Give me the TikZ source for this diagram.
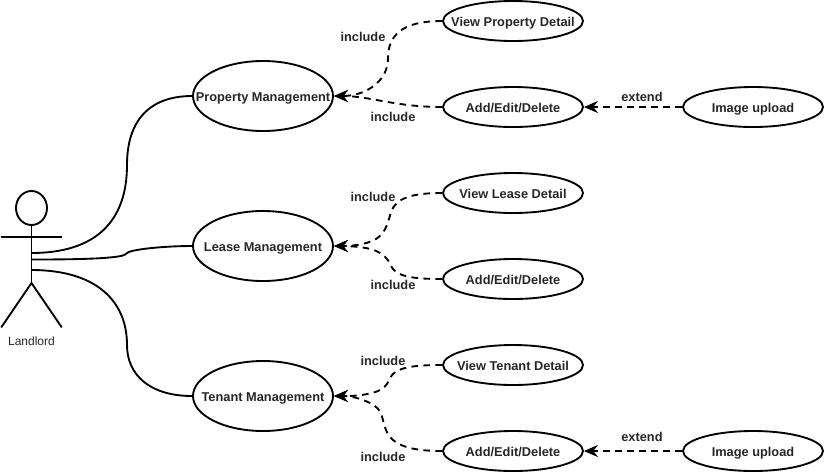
\documentclass[tikz,border=0pt]{standalone}
\usepackage{fontspec}
\setmainfont{Liberation Sans}
\usetikzlibrary{positioning,arrows.meta,shapes.geometric}

\begin{document}
\begin{tikzpicture}[x=0.75pt, y=-0.75pt, on grid,
	mainnode/.style={ellipse, draw=black, line width=1.4pt, inner xsep=-40pt, inner ysep=-4pt, text height=7.5pt, text depth=0pt, minimum width=105pt, minimum height=52.5pt, text=black!85, font=\fontsize{9.6}{11}\selectfont\bfseries},
	subnode/.style={ellipse, draw=black, line width=1.4pt, inner xsep=-40pt, inner ysep=-4pt, text height=7.5pt, text depth=0pt, minimum width=105pt, minimum height=30pt, text=black!85, font=\fontsize{9.6}{11}\selectfont\bfseries},
	lbl/.style={inner sep=0pt, text=black!85, font=\fontsize{9.6}{11}\selectfont\bfseries},
	actorline/.style={line width=1.4pt, line cap=round},
	assoc/.style={line width=1.4pt},
	dep/.style={line width=1.4pt, dash pattern=on 5pt off 4pt, -{Stealth[length=10.5pt, width=9pt, inset=3.5pt, sep=0pt]}}]
	\useasboundingbox (0,0) rectangle (824,472);
	\node[mainnode] (property) at (263,96) {Property Management};
	\node[mainnode] (lease) [below = 112.5pt of property] {Lease Management};
	\node[mainnode] (tenant) [below = 112.5pt of lease] {Tenant Management};
	\node[subnode] (viewprop) [above right = 56.25pt and 187.5pt of property] {View Property Detail};
	\node[subnode] (addprop) [below right = 8.25pt and 187.5pt of property] {Add/Edit/Delete};
	\node[subnode] (imgprop) [right = 180pt of addprop] {Image upload};
	\node[subnode] (viewlease) [above right = 39.75pt and 187.5pt of lease] {View Lease Detail};
	\node[subnode] (addlease) [below right = 24.75pt and 187.5pt of lease] {Add/Edit/Delete};
	\node[subnode] (viewtenant) [above right = 23.25pt and 187.5pt of tenant] {View Tenant Detail};
	\node[subnode] (addtenant) [below right = 41.25pt and 187.5pt of tenant] {Add/Edit/Delete};
	\node[subnode] (imgtenant) [right = 180pt of addtenant] {Image upload};
	% actor
	\node[ellipse, draw=black, line width=1.4pt, inner sep=0pt, minimum width=23.25pt, minimum height=25.5pt] (head) at (31.5,208) {};
	\coordinate (hip) at (31.5,283);
	\coordinate (armL) at (1.5,237);
	\coordinate (armR) at (61.5,237);
	\coordinate (legL) at (1.5,327);
	\coordinate (legR) at (61.5,327);
	\coordinate (linkA) at (31.5,253);
	\coordinate (linkB) at (31.5,259.5);
	\coordinate (linkC) at (31.5,270);
	\draw[actorline] (head.south) -- (hip);
	\draw[actorline] (armL) -- (armR);
	\draw[actorline] (legL) -- (hip) -- (legR);
	\node[inner sep=0pt, text=black!85, font=\fontsize{9}{10}\selectfont] (landlord) at (31.5,341) {Landlord};
	% associations
	\draw[assoc] (linkA) .. controls (95,253) and (127,222) .. (127,165) .. controls (127,120) and (150,96) .. (property.west);
	\draw[assoc] (linkB) .. controls (70,259.5) and (105,259) .. (121,256) .. controls (127,255) and (126,252) .. (132,251) .. controls (145,248) and (170,246) .. (lease.west);
	\draw[assoc] (linkC) .. controls (95,270) and (127,300) .. (127,345) .. controls (127,375) and (150,396) .. (tenant.west);
	% includes
	\draw[dep] (viewprop.west) .. controls (410,21) and (388,30) .. (388,58) .. controls (388,82) and (365,96) .. (property.east);
	\draw[dep] (addprop.west) .. controls (395,107) and (370,96) .. (property.east);
	\draw[dep] (imgprop.west) -- (addprop.east);
	\draw[dep] (viewlease.west) .. controls (412,193) and (396,198) .. (391,212) .. controls (387,226) and (385,233) .. (376,239) .. controls (366,245) and (350,246) .. (lease.east);
	\draw[dep] (addlease.west) .. controls (415,279) and (396,277) .. (391,266) .. controls (388,258) and (383,254) .. (374,250) .. controls (365,247) and (350,246) .. (lease.east);
	\draw[dep] (viewtenant.west) .. controls (415,365) and (395,367) .. (390,378) .. controls (387,387) and (380,391) .. (372,393) .. controls (360,396) and (350,396) .. (tenant.east);
	\draw[dep] (addtenant.west) .. controls (412,451) and (392,446) .. (386,430) .. controls (381,418) and (384,410) .. (370,403) .. controls (360,398) and (350,396) .. (tenant.east);
	\draw[dep] (imgtenant.west) -- (addtenant.east);
	% labels
	\node[lbl] (inc1) at (363,37) {include};
	\node[lbl] (inc2) at (393,117) {include};
	\node[lbl] (ext1) at (642,97) {extend};
	\node[lbl] (inc3) at (373,197) {include};
	\node[lbl] (inc4) at (393,285) {include};
	\node[lbl] (inc5) at (383,361) {include};
	\node[lbl] (inc6) at (383,457) {include};
	\node[lbl] (ext2) at (642,437) {extend};
\end{tikzpicture}
\end{document}
